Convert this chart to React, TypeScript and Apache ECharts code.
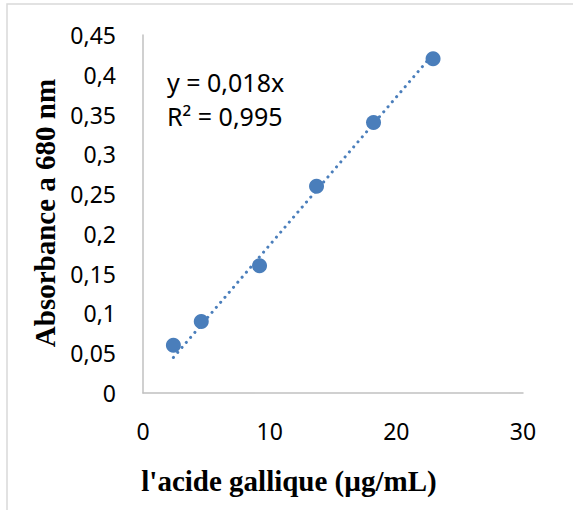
import React, { useEffect, useRef } from "react";
import * as echarts from "echarts";

const concentrations = [2.4, 4.6, 9.2, 13.7, 18.2, 22.9];
const absorbances = [0.06, 0.09, 0.16, 0.26, 0.34, 0.42];
const trendSlope = 0.0186;
const equationLines = ["y = 0,018x", "R² = 0,995"];
const xTitle = "l'acide gallique (µg/mL)";
const yTitle = "Absorbance a 680 nm";

export default function App() {
  const ref = useRef<HTMLDivElement>(null);
  useEffect(() => {
    document.body.style.margin = "0";
    if (!ref.current) return;
    const chart = echarts.init(ref.current, undefined, { renderer: "svg" });
    const points = concentrations.map((x, i) => [x, absorbances[i]]);
    const xs = [concentrations[0], concentrations[concentrations.length - 1]];
    const trend = xs.map((x) => [x, trendSlope * x]);
    const fmt = (v: number) => String(+(+v).toFixed(2)).replace(".", ",");
    chart.setOption({
      animation: false,
      backgroundColor: "#fff",
      grid: { left: 143, right: 50, top: 35, bottom: 117 },
      xAxis: {
        type: "value",
        min: 0,
        max: 30,
        interval: 10,
        axisLine: { show: true, onZero: false, lineStyle: { color: "#c0c0c0", width: 1.5 } },
        axisTick: { show: false },
        splitLine: { show: false },
        axisLabel: { margin: 26, color: "#000", fontFamily: "Noto Sans", fontSize: 23, formatter: fmt },
      },
      yAxis: {
        type: "value",
        min: 0,
        max: 0.45,
        interval: 0.05,
        axisLine: { show: true, onZero: false, lineStyle: { color: "#c0c0c0", width: 1.5 } },
        axisTick: { show: false },
        splitLine: { show: false },
        axisLabel: { margin: 27, color: "#000", fontFamily: "Noto Sans", fontSize: 23, formatter: fmt },
      },
      series: [
        {
          type: "line",
          data: trend,
          symbol: "none",
          lineStyle: { color: "#4a7ebb", width: 3, type: [0.1, 6.5], cap: "round" },
          z: 2,
        },
        {
          type: "scatter",
          data: points,
          symbolSize: 15,
          itemStyle: { color: "#4a7ebb", opacity: 1 },
          z: 3,
        },
      ],
      graphic: [
        {
          type: "rect",
          shape: { x: 7, y: 4, width: 700, height: 700 },
          style: { fill: "none", stroke: "#d9d9d9", lineWidth: 1.5 },
          silent: true,
        },
        {
          type: "text",
          x: 167,
          y: 82,
          style: { text: equationLines[0], fontFamily: "Noto Sans", fontSize: 25, fill: "#000", verticalAlign: "middle" },
        },
        {
          type: "text",
          x: 167,
          y: 116,
          style: { text: equationLines[1], fontFamily: "Noto Sans", fontSize: 25, fill: "#000", verticalAlign: "middle" },
        },
        {
          type: "text",
          x: 289,
          y: 481,
          style: {
            text: xTitle,
            fontFamily: "Liberation Serif",
            fontWeight: "bold",
            fontSize: 29,
            fill: "#000",
            align: "center",
            verticalAlign: "middle",
          },
        },
        {
          type: "text",
          x: 45,
          y: 213,
          rotation: Math.PI / 2,
          style: {
            text: yTitle,
            fontFamily: "Liberation Serif",
            fontWeight: "bold",
            fontSize: 29,
            fill: "#000",
            align: "center",
            verticalAlign: "middle",
          },
        },
      ],
    });
    return () => chart.dispose();
  }, []);
  return <div ref={ref} style={{ width: 573, height: 510 }} />;
}
